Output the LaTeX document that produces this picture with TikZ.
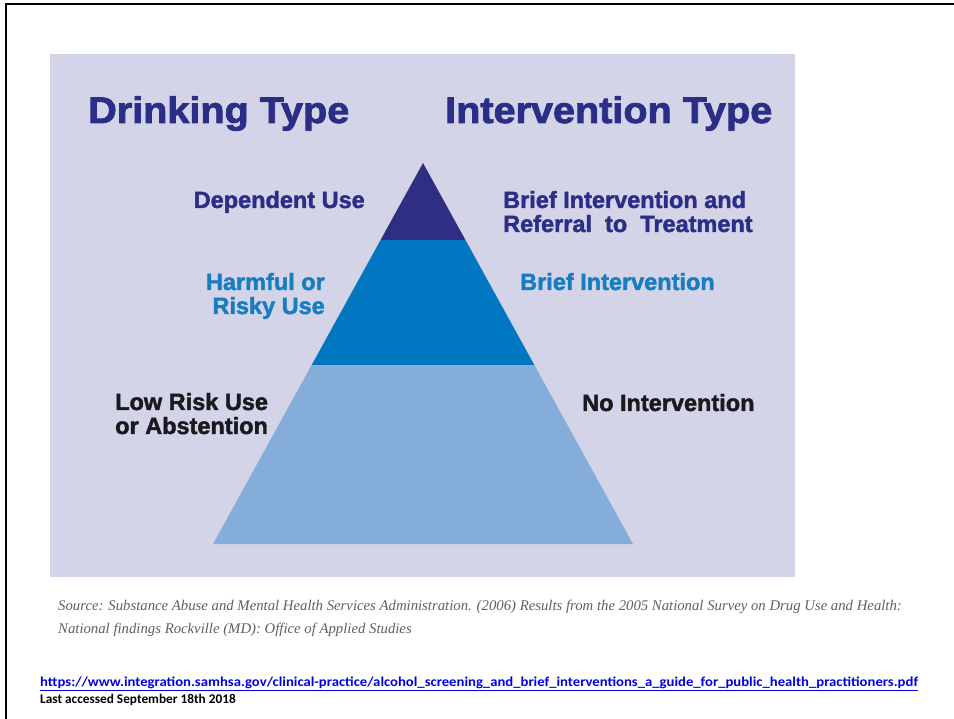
\documentclass[tikz,border=0pt]{standalone}
\usepackage{fontspec}
\usetikzlibrary{calc}
\setmainfont{Liberation Sans}
\newfontfamily\heavy{Liberation Sans}[BoldFeatures={FakeBold=1.8}]
\newfontfamily\wideheavy{Liberation Sans}[BoldFeatures={FakeBold=2.2, FakeStretch=1.07}]
\newfontfamily\srcfont{Liberation Serif}
\newfontfamily\calib{Carlito}
\newfontfamily\widecalib{Carlito}[BoldFeatures={FakeStretch=1.08}]

\definecolor{panelbg}{RGB}{212,212,232}
\definecolor{navyink}{RGB}{43,46,134}
\definecolor{depfill}{RGB}{46,46,130}
\definecolor{riskfill}{RGB}{0,119,192}
\definecolor{lowfill}{RGB}{133,173,217}
\definecolor{riskink}{RGB}{24,125,192}
\definecolor{lowink}{RGB}{25,25,30}
\definecolor{srcgray}{RGB}{95,95,95}
\definecolor{linkblue}{RGB}{0,0,230}

\begin{document}
\begin{tikzpicture}[
    x=1pt, y=-1pt,
    heading/.style={font=\fontsize{37}{37}\selectfont\wideheavy\bfseries, text=navyink, inner sep=0pt, anchor=base west},
    lvltext/.style={font=\fontsize{23.5}{24}\selectfont\heavy\bfseries, inner sep=0pt},
    note/.style={inner sep=0pt, anchor=base west, align=left}
]
    \useasboundingbox (0,0) rectangle (954,719);

    % Slide frame
    \draw[line width=2.5pt] (6,719) -- (6,4) -- (954,4);

    % Panel
    \fill[panelbg] (50,54) rectangle (795,577);

    % Pyramid
    \coordinate (apex) at (423,163);
    \coordinate (bl) at (213,544);
    \coordinate (br) at (633,544);
    \fill[lowfill] ($(apex)!0.530!(bl)$) -- (bl) -- (br) -- ($(apex)!0.530!(br)$) -- cycle;
    \fill[riskfill] ($(apex)!0.202!(bl)$) -- ($(apex)!0.530!(bl)$) -- ($(apex)!0.530!(br)$) -- ($(apex)!0.202!(br)$) -- cycle;
    \fill[depfill] (apex) -- ($(apex)!0.202!(bl)$) -- ($(apex)!0.202!(br)$) -- cycle;

    % Headings
    \node[heading] (drink) at (88,123) {Drinking Type};
    \node[heading] (interv) at (445,123) {Intervention Type};

    % Levels (multi-line nodes sit on their last baseline)
    \node[lvltext, text=navyink, anchor=base east] (dep) at (365,208) {Dependent Use};
    \node[lvltext, text=navyink, anchor=base west, align=left] (refer) at (503,232)
        {Brief Intervention and\\Referral\ \ to\ \ Treatment};
    \node[lvltext, text=riskink, anchor=base east, align=right] (risky) at (325,314)
        {Harmful or\\Risky Use};
    \node[lvltext, text=riskink, anchor=base west] (brief) at (520,290) {Brief Intervention};
    \node[lvltext, text=lowink, anchor=base west, align=left] (low) at (115,434)
        {Low Risk Use\\or Abstention};
    \node[lvltext, text=lowink, anchor=base west] (none) at (582,411) {No Intervention};

    % Source and link
    \node[note, font=\fontsize{14.75}{23}\selectfont\srcfont\itshape, text=srcgray] (src) at (58,633)
        {Source: Substance Abuse and Mental Health Services Administration. (2006) Results from the 2005 National Survey on Drug Use and Health:\\
         National findings Rockville (MD): Office of Applied Studies};
    \node[note, font=\fontsize{13.6}{17}\selectfont\widecalib\bfseries, text=linkblue] (url) at (40,686)
        {\underline{https://www.integration.samhsa.gov/clinical-practice/alcohol\_screening\_and\_brief\_interventions\_a\_guide\_for\_public\_health\_practitioners.pdf}};
    \node[note, font=\fontsize{13.3}{17}\selectfont\calib\bfseries] (seen) at (40,703)
        {Last accessed September 18th 2018};
\end{tikzpicture}
\end{document}
